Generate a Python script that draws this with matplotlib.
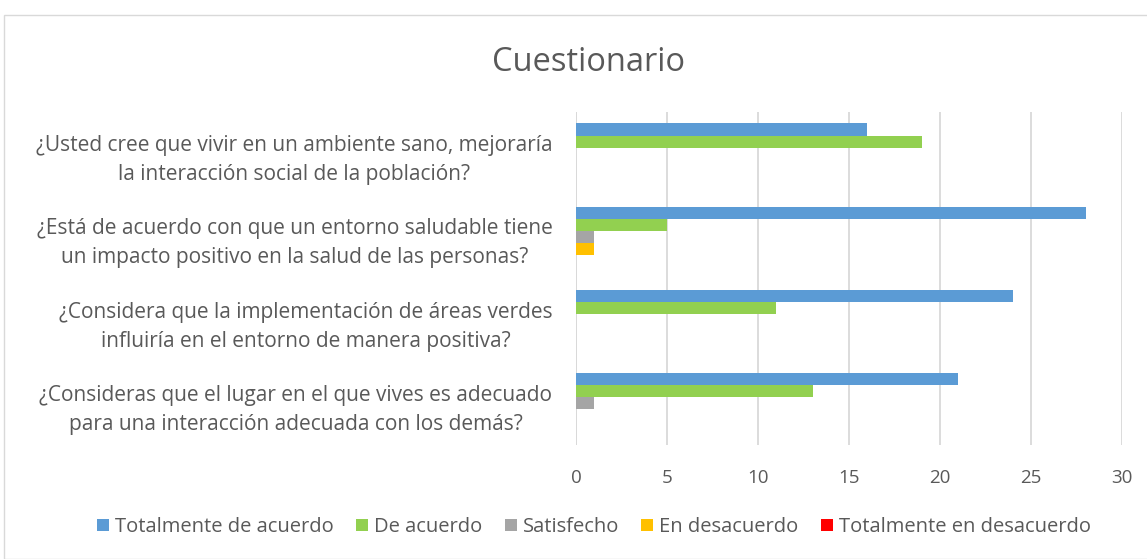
import matplotlib
matplotlib.use("Agg")
import matplotlib.pyplot as plt
import numpy as np

categories = [
    "¿Usted cree que vivir en un ambiente sano, mejoraría\nla interacción social de la población?",
    "¿Está de acuerdo con que un entorno saludable tiene\nun impacto positivo en la salud de las personas?",
    "¿Considera que la implementación de áreas verdes\ninfluiría en el entorno de manera positiva?",
    "¿Consideras que el lugar en el que vives es adecuado\npara una interacción adecuada con los demás?",
]
series_names = ["Totalmente de acuerdo", "De acuerdo", "Satisfecho", "En desacuerdo", "Totalmente en desacuerdo"]
values = {
    "Totalmente de acuerdo": [16, 28, 24, 21],
    "De acuerdo": [19, 5, 11, 13],
    "Satisfecho": [0, 1, 0, 1],
    "En desacuerdo": [0, 1, 0, 0],
    "Totalmente en desacuerdo": [0, 0, 0, 0],
}
colors = ["#5B9BD5", "#92D050", "#A5A5A5", "#FFC000", "#FF0000"]
xticks = [0, 5, 10, 15, 20, 25, 30]

plt.rcParams['font.family'] = ['Open Sans', 'DejaVu Sans']
txt = "#595959"

fig = plt.figure(figsize=(11.47, 5.59), dpi=100)
# chart border
fig.patches.append(plt.Rectangle((4/1147, 0), 1.2, 1 - 15/559, transform=fig.transFigure,
                                 fill=False, edgecolor="#D9D9D9", linewidth=1))
ax = fig.add_axes([576/1147, 1 - 445/559, 546/1147, 333/559])

n_cat = len(categories)
n_ser = len(series_names)
bar_h = 0.145
centers = np.arange(n_cat)[::-1]  # first category at top
for i, name in enumerate(series_names):
    offs = (n_ser - 1) / 2 * bar_h - i * bar_h
    ax.barh(centers + offs, values[name], height=bar_h, color=colors[i], label=name, zorder=3)

ax.set_xlim(0, 30)
ax.set_ylim(-0.5, n_cat - 0.5)
ax.set_xticks(xticks)
ax.set_xticklabels([str(t) for t in xticks], fontsize=13.5, color=txt)
ax.set_yticks(centers)
ax.set_yticklabels(categories, fontsize=15, color=txt, multialignment='center', linespacing=1.5)
ax.tick_params(axis='both', length=0)
ax.tick_params(axis='x', pad=17)
ax.tick_params(axis='y', pad=17)
ax.grid(axis='x', color="#D9D9D9", linewidth=1.3, zorder=0)
for s in ax.spines.values():
    s.set_visible(False)
ax.axvline(0, color="#D9D9D9", linewidth=1.3, zorder=1)

fig.text(589/1147, 1 - 62/559, "Cuestionario", ha='center', va='center', fontsize=23.5, color=txt)

handles, labels = ax.get_legend_handles_labels()
fig.legend(handles, labels, loc='center', bbox_to_anchor=(594/1147, 1 - 527/559), ncol=5,
           frameon=False, fontsize=14.5, labelcolor=txt, handlelength=0.6, handleheight=0.6,
           handletextpad=0.3, columnspacing=1.1)

fig.savefig("out.png", dpi=100)
